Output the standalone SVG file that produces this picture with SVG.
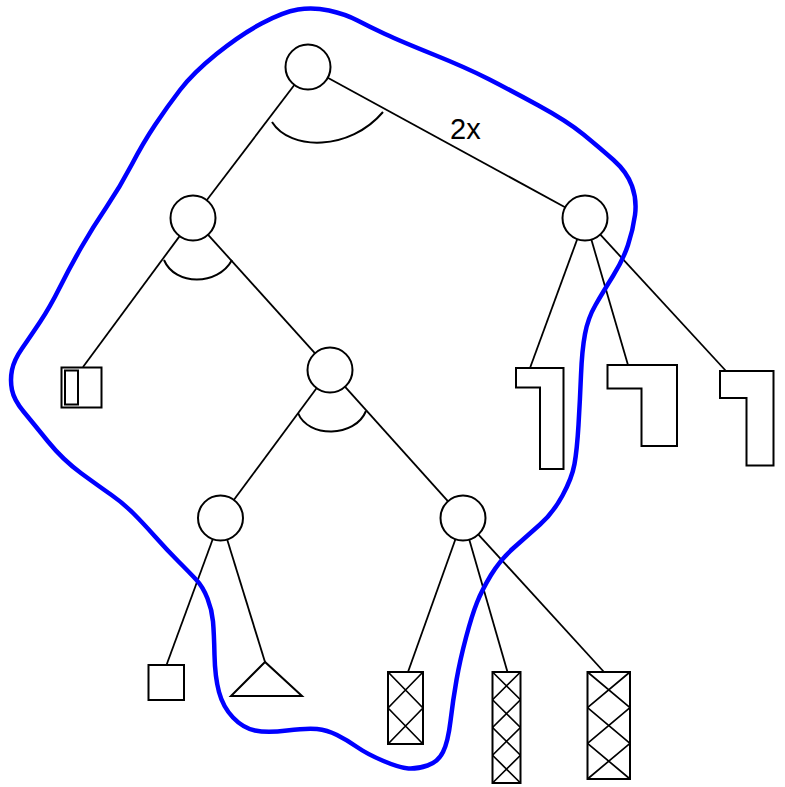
<svg xmlns="http://www.w3.org/2000/svg" width="785" height="787" viewBox="0 0 785 787">
<style>
.node{fill:#fff;stroke:#000;stroke-width:2}
.leaf{fill:#fff;stroke:#000;stroke-width:2}
.edge{stroke:#000;stroke-width:1.8;fill:none}
.arc{stroke:#000;stroke-width:2;fill:none}
.hatch{stroke:#000;stroke-width:1.7;fill:none}
.hull{stroke:#0000ff;stroke-width:4.5;fill:none;stroke-linejoin:round}
.lbl{font-family:"Liberation Sans",Arial,sans-serif;font-size:29px;fill:#000}
</style>
<rect width="785" height="787" fill="#fff"/>
<g id="connectors">
<line class="edge" x1="294.7" y1="84.5" x2="206.5" y2="200.5"/>
<line class="edge" x1="327.3" y1="77.5" x2="565.5" y2="207.5"/>
<line class="edge" x1="180" y1="235.6" x2="83" y2="367"/>
<line class="edge" x1="207.7" y1="234.3" x2="315.3" y2="353.7"/>
<line class="edge" x1="316.9" y1="387.7" x2="233.6" y2="500.3"/>
<line class="edge" x1="344.7" y1="386.4" x2="448.3" y2="501.6"/>
<line class="edge" x1="212.9" y1="538.7" x2="166.5" y2="665"/>
<line class="edge" x1="227" y1="539" x2="265" y2="662"/>
<line class="edge" x1="455.6" y1="538.7" x2="408" y2="672"/>
<line class="edge" x1="469.1" y1="539.1" x2="507.5" y2="672"/>
<line class="edge" x1="478" y1="534.1" x2="604" y2="672"/>
<line class="edge" x1="577.4" y1="238.7" x2="530" y2="368"/>
<line class="edge" x1="591.2" y1="239.1" x2="628" y2="365"/>
<line class="edge" x1="599.9" y1="234.2" x2="726" y2="371"/>
<path class="arc" d="M272,122 C290,151 350,151 383,112"/>
<path class="arc" d="M164,260 C175,286 218,286 232,260"/>
<path class="arc" d="M298,413 C308,438 355,438 366,411"/>
<text class="lbl" x="450" y="139">2x</text>
</g>
<g id="n-root"><circle class="node" cx="308" cy="67" r="22.5"/></g>
<g id="n-left"><circle class="node" cx="193" cy="218" r="22.5"/></g>
<g id="n-right"><circle class="node" cx="585" cy="218" r="22.5"/></g>
<g id="n-mid"><circle class="node" cx="330" cy="370" r="22.5"/></g>
<g id="n-ll"><circle class="node" cx="220.5" cy="518" r="22.5"/></g>
<g id="n-lr"><circle class="node" cx="463" cy="518" r="22.5"/></g>
<g id="leaf-box"><rect class="leaf" x="61.5" y="367.5" width="40" height="40"/><rect class="leaf" x="65" y="370.5" width="13" height="34"/></g>
<g id="leaf-L1"><polygon class="leaf" points="516,368 563.5,368 563.5,469 540,469 540,387.5 516,387.5"/></g>
<g id="leaf-L2"><polygon class="leaf" points="607.5,365 677,365 677,446 641.5,446 641.5,388.5 607.5,388.5"/></g>
<g id="leaf-L3"><polygon class="leaf" points="720,371 773.5,371 773.5,465.5 746.5,465.5 746.5,398 720,398"/></g>
<g id="leaf-square"><rect class="leaf" x="148.5" y="665" width="35.5" height="35"/></g>
<g id="leaf-triangle"><polygon class="leaf" points="265,662 231,696 302,696"/></g>
<g id="leaf-h1"><rect class="leaf" x="388" y="672" width="35" height="72"/><path class="hatch" d="M388,672L423,708M423,672L388,708M388,708L423,744M423,708L388,744"/></g>
<g id="leaf-h2"><rect class="leaf" x="492.5" y="672" width="28" height="111"/><path class="hatch" d="M492.5,672L520.5,699.75M520.5,672L492.5,699.75M492.5,699.75L520.5,727.5M520.5,699.75L492.5,727.5M492.5,727.5L520.5,755.25M520.5,727.5L492.5,755.25M492.5,755.25L520.5,783M520.5,755.25L492.5,783"/></g>
<g id="leaf-h3"><rect class="leaf" x="587.5" y="672" width="42.5" height="107"/><path class="hatch" d="M587.5,672L630,707.67M630,672L587.5,707.67M587.5,707.67L630,743.33M630,707.67L587.5,743.33M587.5,743.33L630,779M630,743.33L587.5,779"/></g>
<g id="hull">
<path class="hull" d="M298,9.5 Q313,7 329,10.5 Q345,14 357.5,20.5 Q370,27 385,34 Q400,41 433.5,54.5 Q467,68 488.5,79 Q510,90 538.5,105.5 Q567,121 583.5,134.5 Q600,148 613.5,160 Q627,172 632,186 Q637,200 635,215 Q633,230 628,245 Q623,260 613,276 Q603,292 595.5,305 Q588,318 585,334 Q582,350 581,375 Q580,400 578.5,425 Q577,450 574.5,464 Q572,478 562.5,495.5 Q553,513 540,524.5 Q527,536 513.5,548 Q500,560 491,575 Q482,590 477,602.5 Q472,615 466,637.5 Q460,660 456.5,680 Q453,700 450.5,721 Q448,742 443,752 Q438,762 427.5,765.5 Q417,769 408.5,768.5 Q400,768 383.5,761 Q367,754 357,747 Q347,740 337,735 Q327,730 317,729 Q307,728 287,730.5 Q267,733 255,730.5 Q243,728 233,717.5 Q223,707 219,692 Q215,677 214.5,655 Q214,633 213,621.5 Q212,610 207.5,598.5 Q203,587 196.5,580 Q190,573 178.5,561.5 Q167,550 155,536.5 Q143,523 133,513 Q123,503 111.5,495 Q100,487 81.5,473.5 Q63,460 48,441.5 Q33,423 23.5,411.5 Q14,400 12,390 Q10,380 12,370 Q14,360 22,348.5 Q30,337 40,322 Q50,307 60,287 Q70,267 81.5,247 Q93,227 106.5,207 Q120,187 131.5,165 Q143,143 155,125 Q167,107 180,90 Q193,73 216.5,54 Q240,35 261.5,23.5 Q283,12 298,9.5 Z"/>
</g>
</svg>
